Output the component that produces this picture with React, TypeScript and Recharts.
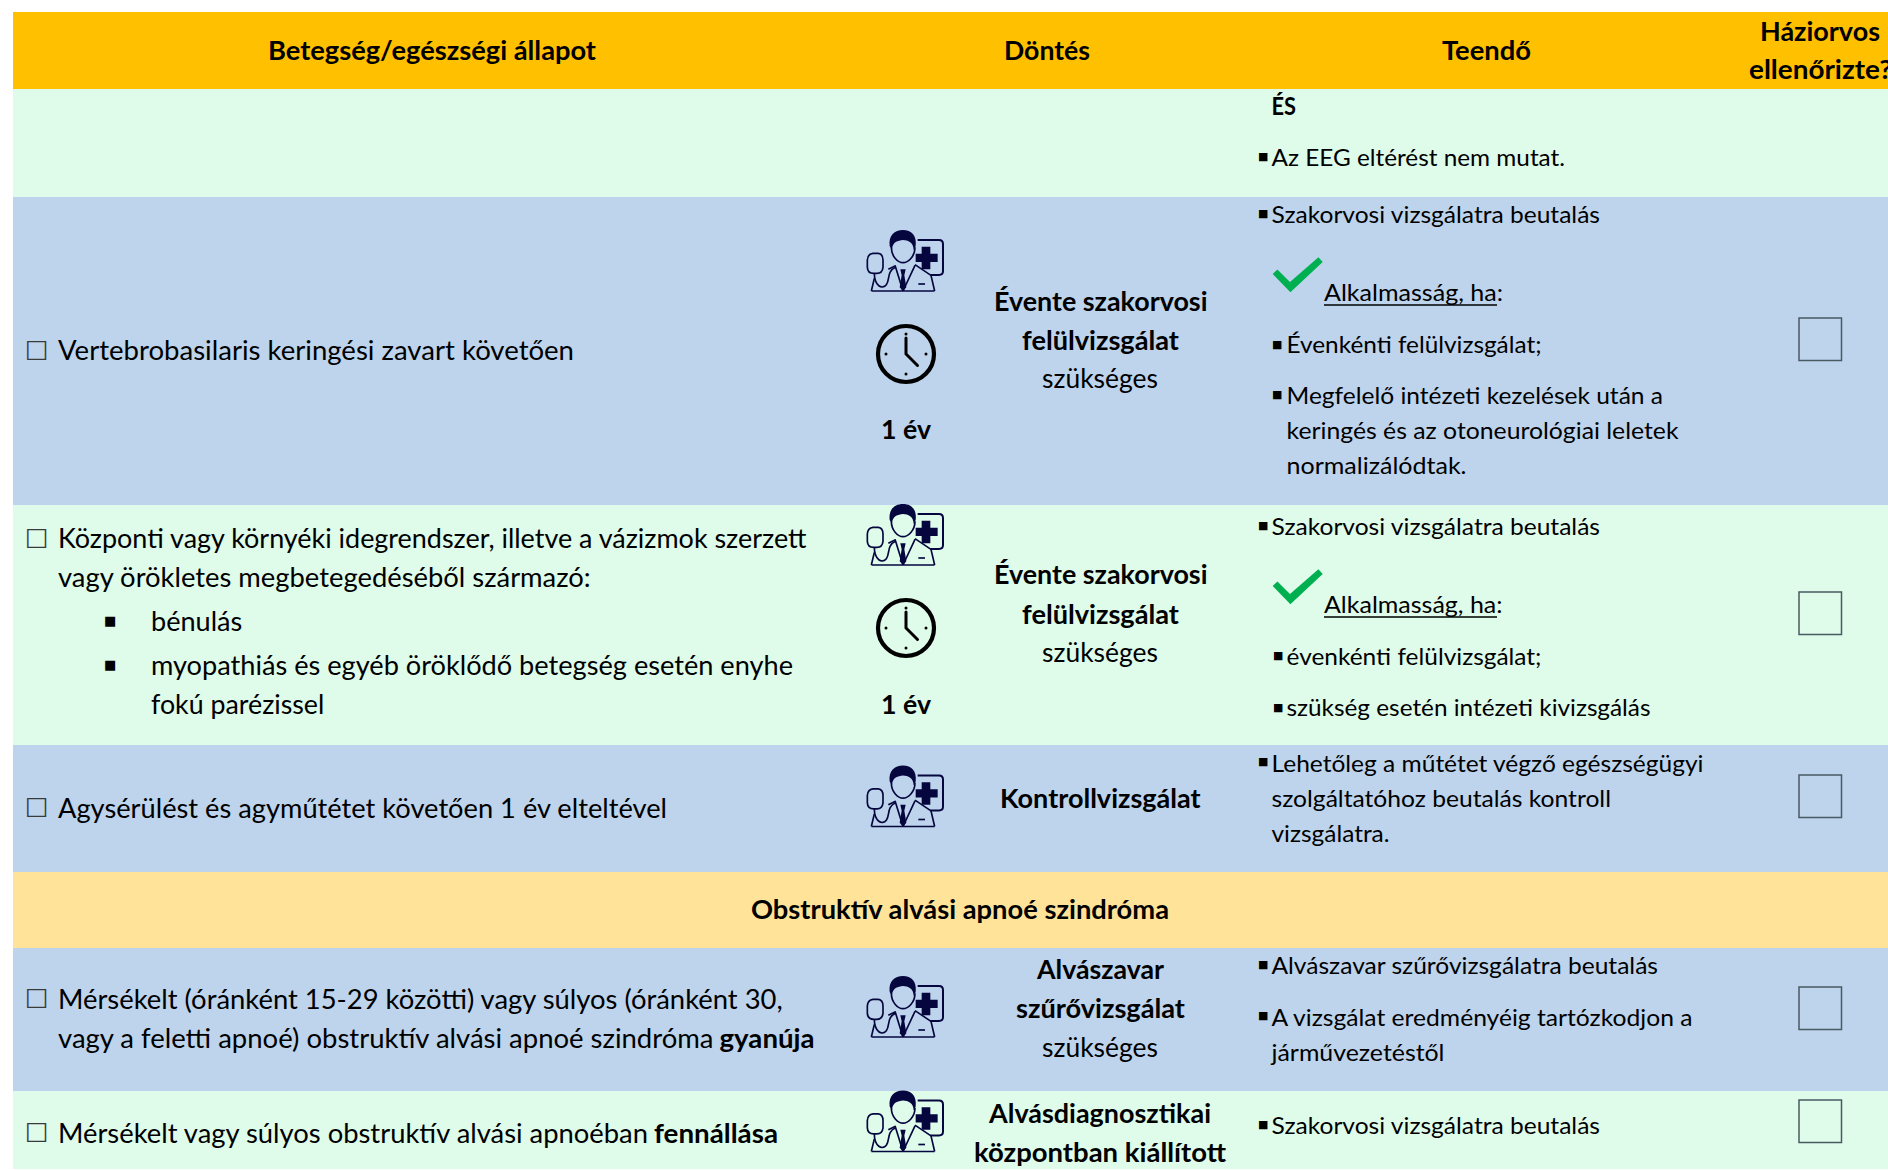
import React from "react";
import { BarChart, Bar, XAxis, YAxis } from "recharts";

// ---------- data ----------
const rowKeys = ["header", "r1", "r2", "r3", "r4", "section", "r5", "r6"];
const rowHeights = [77, 108, 308, 240, 127, 76, 143, 78];
const rowColors = ["#FFC000", "#DFFBEA", "#BDD4EC", "#DFFBEA", "#BDD4EC", "#FFE399", "#BDD4EC", "#DFFBEA"];

const headerLabels = ["Betegség/egészségi állapot", "Döntés", "Teendő", "Háziorvos", "ellenőrizte?", "Obstruktív alvási apnoé szindróma"];
const conditionLines = [
  "Vertebrobasilaris keringési zavart követően",
  "Központi vagy környéki idegrendszer, illetve a vázizmok szerzett",
  "vagy örökletes megbetegedéséből származó:",
  "bénulás",
  "myopathiás és egyéb öröklődő betegség esetén enyhe",
  "fokú parézissel",
  "Agysérülést és agyműtétet követően 1 év elteltével",
  "Mérsékelt (óránként 15-29 közötti) vagy súlyos (óránként 30,",
  "vagy a feletti apnoé) obstruktív alvási apnoé szindróma",
  "Mérsékelt vagy súlyos obstruktív alvási apnoéban",
];
const conditionBold = ["gyanúja", "fennállása"];
const periodLabels = ["1 év", "1 év"];
const decisionBold = [
  "Évente szakorvosi", "felülvizsgálat", "Évente szakorvosi", "felülvizsgálat",
  "Kontrollvizsgálat", "Alvászavar", "szűrővizsgálat", "Alvásdiagnosztikai", "központban kiállított",
];
const decisionPlain = ["szükséges", "szükséges", "szükséges"];
const actionBold = ["ÉS"];
const actionLines = [
  "Az EEG eltérést nem mutat.",
  "Szakorvosi vizsgálatra beutalás",
  "Alkalmasság, ha:",
  "Évenkénti felülvizsgálat;",
  "Megfelelő intézeti kezelések után a",
  "keringés és az otoneurológiai leletek",
  "normalizálódtak.",
  "Szakorvosi vizsgálatra beutalás",
  "Alkalmasság, ha:",
  "évenkénti felülvizsgálat;",
  "szükség esetén intézeti kivizsgálás",
  "Lehetőleg a műtétet végző egészségügyi",
  "szolgáltatóhoz beutalás kontroll",
  "vizsgálatra.",
  "Alvászavar szűrővizsgálatra beutalás",
  "A vizsgálat eredményéig tartózkodjon a",
  "járművezetéstől",
  "Szakorvosi vizsgálatra beutalás",
];

// ---------- layout (x, baseline, width) ----------
type P = [number, number, number];
const headerPos: P[] = [[268, 59, 328], [1004, 59, 86], [1442, 59, 89], [1760, 40, 120], [1749, 78, 143], [751, 918, 418]];
const conditionPos: P[] = [
  [58, 360, 516], [58, 548, 748.5], [58, 587, 532.7], [151, 631, 91.3], [151, 675, 642], [151, 713.8, 173.3],
  [58, 817, 609], [58, 1008, 724.7], [58, 1047, 655.5], [58, 1142, 590],
];
const conditionBoldPos: P[] = [[719.5, 1047, 95.1], [654, 1142, 124]];
const periodPos: P[] = [[881, 438, 50], [881, 713, 50]];
const decisionBoldPos: P[] = [
  [994, 310, 213.5], [1022, 349, 157], [994, 583, 213.5], [1022, 623, 157],
  [1000, 807, 200.5], [1037, 978, 127], [1016, 1017, 169], [989, 1122, 222], [974, 1161, 252],
];
const decisionPlainPos: P[] = [[1042, 388, 116], [1042, 662, 116], [1042, 1056, 116]];
const actionBoldPos: P[] = [[1271.5, 114, 24.5]];
const actionPos: P[] = [
  [1271.5, 166, 293.5], [1271.5, 223, 328.5], [1324, 301, 179], [1286.5, 353, 255], [1286.5, 404, 376.5], [1286.5, 439, 392], [1286.5, 474, 180],
  [1271.5, 535, 328.5], [1324, 613, 178.5], [1286.5, 665, 255], [1286.5, 716, 364],
  [1271.5, 771, 432], [1271.5, 806, 339.5], [1271.5, 841, 118],
  [1271.5, 973, 386.5], [1271.5, 1025, 421], [1271.5, 1060, 173], [1271.5, 1133, 328.5],
];
const bulletPos: [number, number][] = [
  [1258, 160], [1258, 217], [1272, 347.5], [1272, 398], [1258, 528.5], [1273, 659], [1273, 710.5],
  [1258, 764.5], [1258, 967.5], [1258, 1018.5], [1258, 1127.5],
];
const listBulletPos: [number, number][] = [[105, 625], [105, 669]];
const boxGlyphPos: [number, number][] = [[27, 357], [27, 545], [27, 814], [27, 1005], [27, 1139]];
const checkboxPos = [[1799, 318], [1799, 592], [1799, 775], [1799, 987], [1799, 1100]];
const doctorPos = [[867, 230], [867, 504], [867, 765.5], [867, 976], [867, 1090.5]];
const clockPos = [[906, 354], [906, 628]];
const tickPos = [[1272.7, 274], [1272.7, 586]];
const underlinePos = [[1324, 1497, 305], [1324, 1497, 617]];

const FONT = "Lato, Carlito, 'Open Sans', sans-serif";

function Run({ p, s, size, bold }: { p: P; s: string; size: number; bold?: boolean }) {
  const dy = bold ? 1 : p[1] > 750 ? 0.9 : 0;
  return (
    <text x={p[0]} y={p[1] + dy} fontFamily={FONT} fontSize={size} fontWeight={bold ? 700 : 400} fill="#000"
      textLength={p[2]} lengthAdjust="spacingAndGlyphs">{s}</text>
  );
}

function Doctor({ x, y }: { x: number; y: number }) {
  const c = "#06063F";
  return (
    <g transform={`translate(${x},${y}) scale(0.3333) translate(-82,-60)`} fill="none" stroke={c} strokeWidth={5} strokeLinejoin="round">
      <path d="M150 108 C146 76 165 60 190 60 C215 60 232 76 228 108 L222 120 C222 98 205 90 190 90 C175 92 158 94 157 120 Z" fill={c} stroke="none" />
      <path d="M155 112 C155 140 175 158 190 158 C205 158 226 140 226 112" />
      <path d="M234 90 H298 Q310 90 310 102 V184 Q310 195 298 195 H272" strokeWidth={6} />
      <path d="M246 110 H272 V131 H294 V156 H272 V178 H246 V156 H228 V131 H246 Z" fill={c} stroke="none" />
      <path d="M100 130 H116 Q130 132 130 150 V172 Q128 190 112 190 H102 Q84 190 83 172 V150 Q84 132 100 130 Z" />
      <path d="M104 190 C104 228 128 240 140 224 C152 208 140 184 168 172" />
      <path d="M95 243 H285 M95 243 L104 205 M285 243 L274 196 L226 164 M166 166 L190 243 L226 166 M166 168 L146 178" />
      <path d="M182 178 H198 L194 196 L200 232 L190 243 L180 232 L186 196 Z" fill={c} stroke="none" />
      <path d="M236 222 H256" />
    </g>
  );
}

function Clock({ cx, cy }: { cx: number; cy: number }) {
  return (
    <g stroke="#000" fill="none" strokeLinecap="round">
      <circle cx={cx} cy={cy} r={28} strokeWidth={4.2} />
      <path d={`M${cx} ${cy - 16} V${cy} L${cx + 11.5} ${cy + 11.5}`} strokeWidth={3} />
      <circle cx={cx} cy={cy - 20} r={1.5} fill="#000" stroke="none" />
      <circle cx={cx} cy={cy + 20} r={1.5} fill="#000" stroke="none" />
      <circle cx={cx - 20} cy={cy} r={1.5} fill="#000" stroke="none" />
      <circle cx={cx + 20} cy={cy} r={1.5} fill="#000" stroke="none" />
    </g>
  );
}

function Tick({ x, y }: { x: number; y: number }) {
  const pts = [[0, 0], [4.7, -4.4], [17.3, 7.9], [45.7, -16.7], [50, -12], [17.7, 18.3]];
  return <polygon points={pts.map(([a, b]) => `${x + a},${y + b}`).join(" ")} fill="#00B050" />;
}

function Overlay() {
  return (
    <svg width={1888} height={1170} style={{ position: "absolute", left: 0, top: 0 }}>
      {headerLabels.map((s, i) => <Run key={s} s={s} p={headerPos[i]} size={26} bold />)}
      {boxGlyphPos.map(([x, y], i) => (
        <text key={i} x={x - 2} y={y} fontFamily="'DejaVu Sans'" fontSize={25} fill="#3a3a3a">□</text>
      ))}
      {conditionLines.map((s, i) => <Run key={i} s={s} p={conditionPos[i]} size={26} />)}
      {conditionBold.map((s, i) => <Run key={s} s={s} p={conditionBoldPos[i]} size={26} bold />)}
      {listBulletPos.map(([x, y], i) => (
        <text key={i} x={x - 1} y={y} fontFamily="'DejaVu Sans'" fontSize={13} fill="#000">■</text>
      ))}
      {periodLabels.map((s, i) => <Run key={i} s={s} p={periodPos[i]} size={26} bold />)}
      {decisionBold.map((s, i) => <Run key={i} s={s} p={decisionBoldPos[i]} size={26} bold />)}
      {decisionPlain.map((s, i) => <Run key={i} s={s} p={decisionPlainPos[i]} size={26} />)}
      {actionBold.map((s, i) => <Run key={i} s={s} p={actionBoldPos[i]} size={24} bold />)}
      {actionLines.map((s, i) => <Run key={i} s={s} p={actionPos[i]} size={23.5} />)}
      {bulletPos.map(([x, y], i) => (
        <text key={i} x={x} y={y} fontFamily="'DejaVu Sans'" fontSize={11} fill="#000">■</text>
      ))}
      {underlinePos.map(([a, b, y], i) => <line key={i} x1={a} x2={b} y1={y} y2={y} stroke="#000" strokeWidth={1.6} />)}
      {tickPos.map(([x, y], i) => <Tick key={i} x={x} y={y} />)}
      {doctorPos.map(([x, y], i) => <Doctor key={i} x={x} y={y} />)}
      {clockPos.map(([x, y], i) => <Clock key={i} cx={x} cy={y} />)}
      {checkboxPos.map(([x, y], i) => (
        <rect key={i} x={x} y={y} width={42.5} height={42.5} fill="none" stroke="#4A5A62" strokeWidth={1.5} />
      ))}
    </svg>
  );
}

const total = rowHeights.reduce((a, b) => a + b, 0);
const tableData = [Object.fromEntries([["name", "table"], ...rowKeys.map((k, i) => [k, rowHeights[i]])])];

export default function App() {
  return (
    <div style={{ position: "absolute", left: 0, top: 0, width: 1888, height: 1170, background: "#fff", overflow: "hidden" }}>
      <BarChart width={1888} height={1170} data={tableData} barCategoryGap={0} barGap={0}
        margin={{ top: 12, left: 13, right: 0, bottom: 1 }}>
        <XAxis dataKey="name" hide />
        <YAxis hide reversed type="number" domain={[0, total]} />
        {rowKeys.map((k, i) => (
          <Bar key={k} dataKey={k} stackId="rows" fill={rowColors[i]} isAnimationActive={false} />
        ))}
      </BarChart>
      <Overlay />
    </div>
  );
}
